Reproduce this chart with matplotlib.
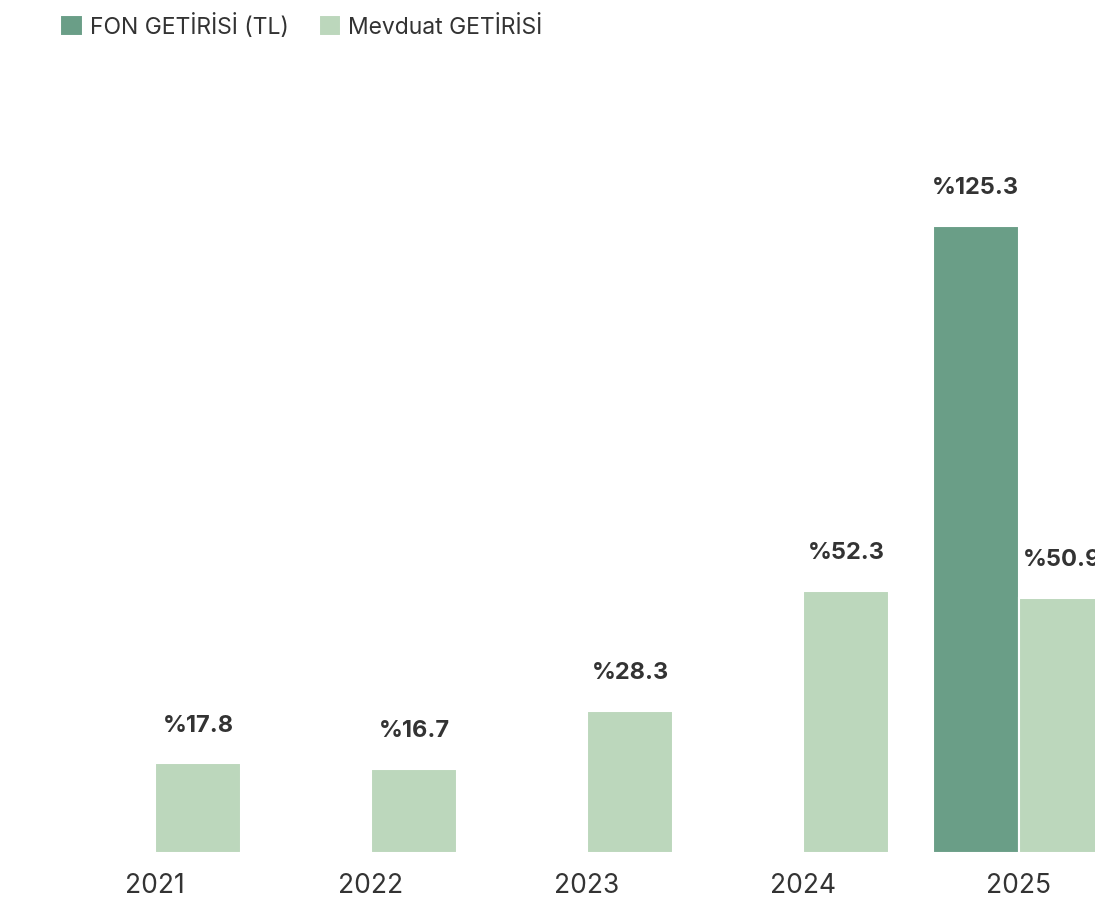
import numpy as np
import matplotlib.pyplot as plt

plt.rcParams['font.family'] = ['Inter', 'DejaVu Sans']

years = ["2021", "2022", "2023", "2024", "2025"]
fon_getirisi = [np.nan, np.nan, np.nan, np.nan, 125.3]
mevduat_getirisi = [17.8, 16.7, 28.3, 52.3, 50.9]

FON_COLOR = "#6a9e87"
MEV_COLOR = "#bcd7bc"
TEXT_COLOR = "#333333"

fig = plt.figure(figsize=(10.95, 9.12), dpi=100)
ax = fig.add_axes([0, 58.5 / 912, 1, (853.5 - 70) / 912])

x = np.arange(len(years))
w = 0.4
b1 = ax.bar(x - w / 2, fon_getirisi, w, color=FON_COLOR, edgecolor="white",
            linewidth=1.5, label="FON GETİRİSİ (TL)")
b2 = ax.bar(x + w / 2, mevduat_getirisi, w, color=MEV_COLOR, edgecolor="white",
            linewidth=1.5, label="Mevduat GETİRİSİ")

for bars, vals in ((b1, fon_getirisi), (b2, mevduat_getirisi)):
    for rect, v in zip(bars, vals):
        if np.isnan(v):
            continue
        ax.annotate(f"%{v:.1f}", (rect.get_x() + rect.get_width() / 2, v),
                    xytext=(0, 20), textcoords="offset points",
                    ha="center", va="bottom", fontsize=17, fontweight="bold",
                    color=TEXT_COLOR, annotation_clip=False)

ax.set_xlim(-0.718, 4.352)
ax.set_ylim(0, 156.6)
ax.set_xticks(x)
ax.set_xticklabels(years, fontsize=19, color=TEXT_COLOR)
ax.tick_params(axis="x", length=0, pad=14)
ax.set_yticks([])
for s in ax.spines.values():
    s.set_visible(False)

fig.legend(handles=[b1, b2], loc="upper left", bbox_to_anchor=(0.036, 1.007),
           ncol=2, frameon=False, fontsize=16.5, handlelength=1.0,
           handleheight=1.0, handletextpad=0.3, columnspacing=1.3,
           labelcolor=TEXT_COLOR)

fig.savefig("out.png", dpi=100)
